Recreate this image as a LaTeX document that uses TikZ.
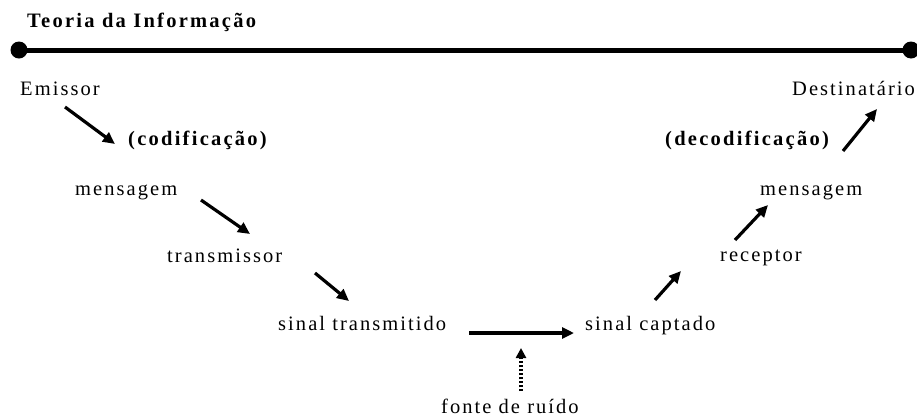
\documentclass[tikz,border=0pt]{standalone}
\usepackage{fontspec}
\setmainfont{Liberation Serif}[LetterSpace=10]
\newfontfamily\titlefont{Liberation Serif}[LetterSpace=11]
\usetikzlibrary{arrows.meta}
\begin{document}
\begin{tikzpicture}[x=1pt,y=-1pt,
  lbl/.style={anchor=base west,inner sep=0pt,font=\fontsize{20.5}{24}\selectfont},
  blbl/.style={lbl,font=\titlefont\fontsize{20.5}{24}\selectfont\bfseries},
  flow/.style={line width=3.2pt,-{Triangle[length=12pt,width=11pt]}},
  noise/.style={line width=3.2pt,dash pattern=on 2pt off 2pt,-{Triangle[length=10pt,width=10pt]}}]
\useasboundingbox (0,0) rectangle (917,416);
\fill[white] (0,0) rectangle (917,416);

% title and time line
\node[blbl] (title) at (27,27) {Teoria da Informação};
\coordinate (lend) at (19,50);
\coordinate (rend) at (911,50);
\draw[line width=5pt] (lend) -- (rend);
\fill (lend) circle (8.5);
\fill (rend) circle (8.5);

% stages
\node[lbl]  (emi)  at (20,95)   {Emissor};
\node[blbl] (cod)  at (128,145) {(codificação)};
\node[lbl]  (msg1) at (75,195)  {mensagem};
\node[lbl]  (tx)   at (167,262) {transmissor};
\node[lbl]  (stx)  at (278,330) {sinal transmitido};
\node[lbl]  (scap) at (585,330) {sinal captado};
\node[lbl]  (ruid) at (441,413) {fonte de ruído};
\node[lbl]  (rx)   at (720,261) {receptor};
\node[lbl]  (msg2) at (760,195) {mensagem};
\node[blbl] (dec)  at (665,145) {(decodificação)};
\node[lbl]  (dest) at (792,95)  {Destinatário};

% arrow end points
\coordinate (a1) at (65,107);  \coordinate (b1) at (115,144);
\coordinate (a2) at (201,200); \coordinate (b2) at (250,234);
\coordinate (a3) at (315,273); \coordinate (b3) at (349,301);
\coordinate (a4) at (469,333); \coordinate (b4) at (574,333);
\coordinate (a5) at (655,300); \coordinate (b5) at (681,271);
\coordinate (a6) at (735,240); \coordinate (b6) at (768,205);
\coordinate (a7) at (843,151); \coordinate (b7) at (877,109);
\coordinate (n1) at (521,391); \coordinate (n2) at (521,348);

\draw[flow] (a1) -- (b1);
\draw[flow] (a2) -- (b2);
\draw[flow] (a3) -- (b3);
\draw[flow] (a4) -- (b4);
\draw[flow] (a5) -- (b5);
\draw[flow] (a6) -- (b6);
\draw[flow] (a7) -- (b7);
\draw[noise] (n1) -- (n2);
\end{tikzpicture}
\end{document}
